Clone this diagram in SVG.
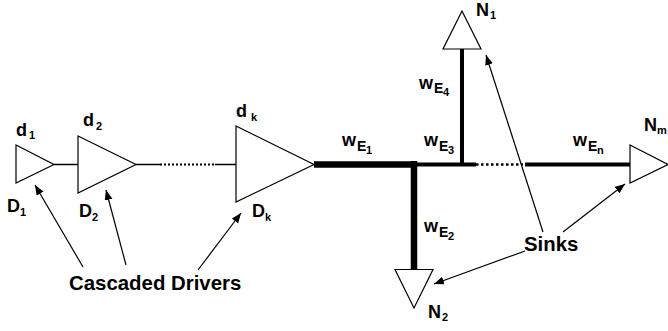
<svg xmlns="http://www.w3.org/2000/svg" width="668" height="331" viewBox="0 0 668 331">
<style>
text{font-family:"Liberation Sans",Arial,sans-serif;font-weight:bold;fill:#000}
.m{font-size:18px}.s{font-size:11px}.e{font-size:14px}.l{font-size:20.400px}
.t{fill:#fff;stroke:#000;stroke-width:1.2}
.w{fill:none;stroke:#000}
.a{fill:none;stroke:#000;stroke-width:1.2;marker-end:url(#ah)}
</style>
<defs><marker id="ah" markerUnits="userSpaceOnUse" markerWidth="12" markerHeight="10" refX="10" refY="4" orient="auto"><path d="M0,0L10,4L0,8z" fill="#000"/></marker></defs>
<g id="connectors">
<path class="w" stroke-width="1.3" d="M54 164.500H78M136 164.500H160M215 164.500H236"/>
<path class="w" stroke-width="1.800" stroke-dasharray="2 2" d="M160 164.500H215"/>
<path class="w" stroke-width="6.500" d="M314 164.500H415M414 161V270"/>
<path class="w" stroke-width="4" d="M415 164.500H476M462 164.500V49M525 164.500H631"/>
<path class="w" stroke-width="2.500" stroke-dasharray="2.500 2.500" d="M476 164.500H523"/>
<path class="a" d="M83 267L35 185"/>
<path class="a" d="M126 265L106 190"/>
<path class="a" d="M198 270L241 213"/>
<path class="a" d="M543 232L486 55"/>
<path class="a" d="M563 232L625 184"/>
<path class="a" d="M525 251L434 284"/>
</g>
<g id="d1"><path class="t" d="M16 145L54 164.500L16 183z"/><text class="m" x="16" y="136">d</text><text class="s" x="29" y="139">1</text><text class="m" x="7" y="212">D</text><text class="s" x="20" y="216">1</text></g>
<g id="d2"><path class="t" d="M78 136L136 164.500L78 193z"/><text class="m" x="83" y="126">d</text><text class="s" x="96" y="130">2</text><text class="m" x="79" y="217">D</text><text class="s" x="92" y="221">2</text></g>
<g id="dk"><path class="t" d="M236 126L314 164.500L236 202z"/><text class="m" x="236" y="117">d</text><text class="s" x="251" y="121">k</text><text class="m" x="252" y="217">D</text><text class="s" x="265" y="221">k</text></g>
<g id="n1"><path class="t" d="M462 11L481 49H443z"/><text class="m" x="476" y="16">N</text><text class="s" x="490" y="19">1</text></g>
<g id="n2"><path class="t" d="M395 269.500H433L414 308z"/><text class="m" x="428" y="318">N</text><text class="s" x="442" y="321">2</text></g>
<g id="nm"><path class="t" d="M630 145L668 164.500L630 183z"/><text class="m" x="644" y="131">N</text><text class="s" x="657" y="134">m</text></g>
<g id="wires">
<text class="m" x="342" y="146">w</text><text class="e" x="357" y="151">E</text><text class="s" x="366" y="154">1</text>
<text class="m" x="419" y="89">w</text><text class="e" x="434" y="93">E</text><text class="s" x="443" y="96">4</text>
<text class="m" x="424" y="146">w</text><text class="e" x="439" y="151">E</text><text class="s" x="448" y="154">3</text>
<text class="m" x="573" y="146">w</text><text class="e" x="588" y="151">E</text><text class="s" x="597" y="154">n</text>
<text class="m" x="424" y="232">w</text><text class="e" x="439" y="237">E</text><text class="s" x="448" y="240">2</text>
</g>
<g id="labels"><text class="l" x="69" y="290">Cascaded Drivers</text><text class="l" x="524" y="251">Sinks</text></g>
</svg>
